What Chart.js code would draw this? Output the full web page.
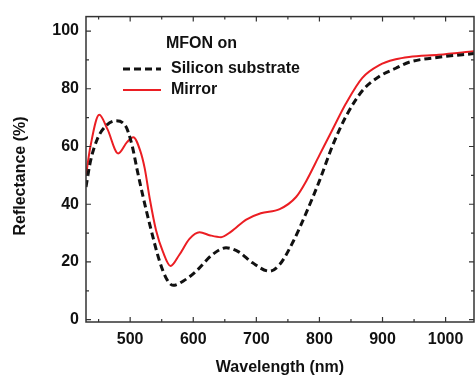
<!DOCTYPE html>
<html lang="en">
<head>
  <meta charset="UTF-8">
  <title>Reflectance</title>
  <style>
    html, body { margin: 0; padding: 0; background: #fff; }
    .chart-container { width: 475px; height: 379px; }
  </style>
</head>
<body>
  <div class="chart-container">
    <canvas id="myChart"></canvas>
  </div>

  <script src="https://cdn.jsdelivr.net/npm/chart.js"></script>
  <script>
    // Silicon substrate (dashed black)
    const siliconNm = [430, 437, 448, 461, 477, 493, 503, 511, 519, 531, 547, 558, 568, 585, 605, 630, 652, 672, 694, 721, 737, 758, 779, 800, 821, 842, 868, 895, 921, 942, 989, 1045];
    const siliconR  = [46, 54.8, 62.6, 67, 68.9, 67, 60.4, 52, 44, 33, 20, 14, 11.9, 13.5, 16.9, 22.5, 24.9, 23.5, 19.7, 16.8, 19.1, 26.9, 37, 48.1, 60.4, 70.4, 79.3, 84.3, 87.1, 89.2, 90.9, 92.2];

    // Mirror (solid red)
    const mirrorNm = [430, 437, 451, 464, 481, 495, 505, 516, 523, 531, 541, 552, 564, 578, 594, 610, 627, 644, 660, 684, 707, 737, 763, 779, 800, 821, 842, 868, 895, 921, 942, 989, 1045];
    const mirrorR  = [50, 60, 71, 66, 57.6, 61.5, 63.2, 58.5, 52.5, 42, 31, 23.5, 18.6, 22.5, 28, 30.3, 29.2, 28.6, 30.5, 34.7, 36.9, 38.3, 42.5, 48, 57, 66, 74.9, 83.8, 88.2, 90.2, 91, 91.8, 93];

    const xMajor = [500, 600, 700, 800, 900, 1000];
    const xMinor = [450, 550, 650, 750, 850, 950];
    const yMajor = [0, 20, 40, 60, 80, 100];
    const yMinor = [10, 30, 50, 70, 90];

    const FAMILY = '"Liberation Sans", Arial, sans-serif';
    const FONT = 'bold 16px ' + FAMILY;
    const AXIS_COLOR = '#333';

    const toPoints = (xs, ys) => xs.map((x, i) => ({x, y: ys[i]}));

    // Box around plot area with inward-pointing ticks, plus y title and inset legend.
    const framePlugin = {
      id: 'frame',
      afterDraw(chart) {
        const {ctx, chartArea: a, scales: {x, y}} = chart;
        ctx.save();
        ctx.strokeStyle = AXIS_COLOR;
        ctx.lineWidth = 1.5;
        ctx.strokeRect(a.left, a.top, a.right - a.left, a.bottom - a.top);

        ctx.lineWidth = 1.2;
        ctx.beginPath();
        const xt = (v, len) => {
          const px = x.getPixelForValue(v);
          ctx.moveTo(px, a.bottom); ctx.lineTo(px, a.bottom - len);
          ctx.moveTo(px, a.top); ctx.lineTo(px, a.top + len);
        };
        const yt = (v, len) => {
          const py = y.getPixelForValue(v);
          ctx.moveTo(a.left, py); ctx.lineTo(a.left + len, py);
          ctx.moveTo(a.right, py); ctx.lineTo(a.right - len, py);
        };
        xMajor.forEach(v => xt(v, 5));
        xMinor.forEach(v => xt(v, 3));
        yMajor.forEach(v => yt(v, 5));
        yMinor.forEach(v => yt(v, 3));
        ctx.stroke();

        // y axis title
        ctx.fillStyle = '#111';
        ctx.font = FONT;
        ctx.textAlign = 'center';
        ctx.textBaseline = 'middle';
        ctx.translate(21, 176);
        ctx.rotate(-Math.PI / 2);
        ctx.fillText('Reflectance (%)', 0, 0);
        ctx.restore();

        // legend
        ctx.save();
        ctx.font = FONT;
        ctx.fillStyle = '#111';
        ctx.textBaseline = 'middle';
        ctx.textAlign = 'left';
        ctx.fillText('MFON on', 166, 44);
        chart.data.datasets.forEach((ds, i) => {
          const ly = 69 + i * 21;
          ctx.strokeStyle = ds.borderColor;
          ctx.lineWidth = ds.borderWidth;
          ctx.setLineDash(ds.borderDash || []);
          ctx.beginPath();
          ctx.moveTo(123, ly);
          ctx.lineTo(161, ly);
          ctx.stroke();
          ctx.fillText(ds.label, 171, ly);
        });
        ctx.restore();
      }
    };

    const tickFont = {family: FAMILY, size: 16, weight: 'bold'};

    const config = {
      type: 'line',
      data: {
        datasets: [
          {
            label: 'Silicon substrate',
            data: toPoints(siliconNm, siliconR),
            borderColor: '#111',
            borderWidth: 3,
            borderDash: [7, 4],
            pointRadius: 0,
            cubicInterpolationMode: 'monotone'
          },
          {
            label: 'Mirror',
            data: toPoints(mirrorNm, mirrorR),
            borderColor: 'rgb(235,30,35)',
            borderWidth: 2,
            pointRadius: 0,
            cubicInterpolationMode: 'monotone'
          }
        ]
      },
      options: {
        responsive: false,
        animation: false,
        layout: {padding: {top: 5, right: 1, left: 0, bottom: 0}},
        plugins: {
          legend: {display: false},
          tooltip: {enabled: false}
        },
        scales: {
          x: {
            type: 'linear',
            min: 430,
            max: 1045,
            afterBuildTicks: s => { s.ticks = xMajor.map(v => ({value: v})); },
            afterFit: s => { s.height = 57; },
            grid: {display: false, drawTicks: false},
            border: {display: false},
            ticks: {color: '#111', font: tickFont, padding: 8, maxRotation: 0, callback: v => String(v)},
            title: {
              display: true,
              text: 'Wavelength (nm)',
              color: '#111',
              font: tickFont,
              padding: {top: 0, bottom: 2}
            }
          },
          y: {
            min: -0.8,
            max: 105,
            afterBuildTicks: s => { s.ticks = yMajor.map(v => ({value: v})); },
            afterFit: s => { s.width = 86; },
            grid: {display: false, drawTicks: false},
            border: {display: false},
            ticks: {color: '#111', font: tickFont, padding: 7, callback: v => String(v)}
          }
        }
      },
      plugins: [framePlugin]
    };

    const canvas = document.querySelector('#myChart');
    canvas.width = 475;
    canvas.height = 379;
    const chart = new Chart(canvas, config);
    window.chart = chart;
  </script>
</body>
</html>
